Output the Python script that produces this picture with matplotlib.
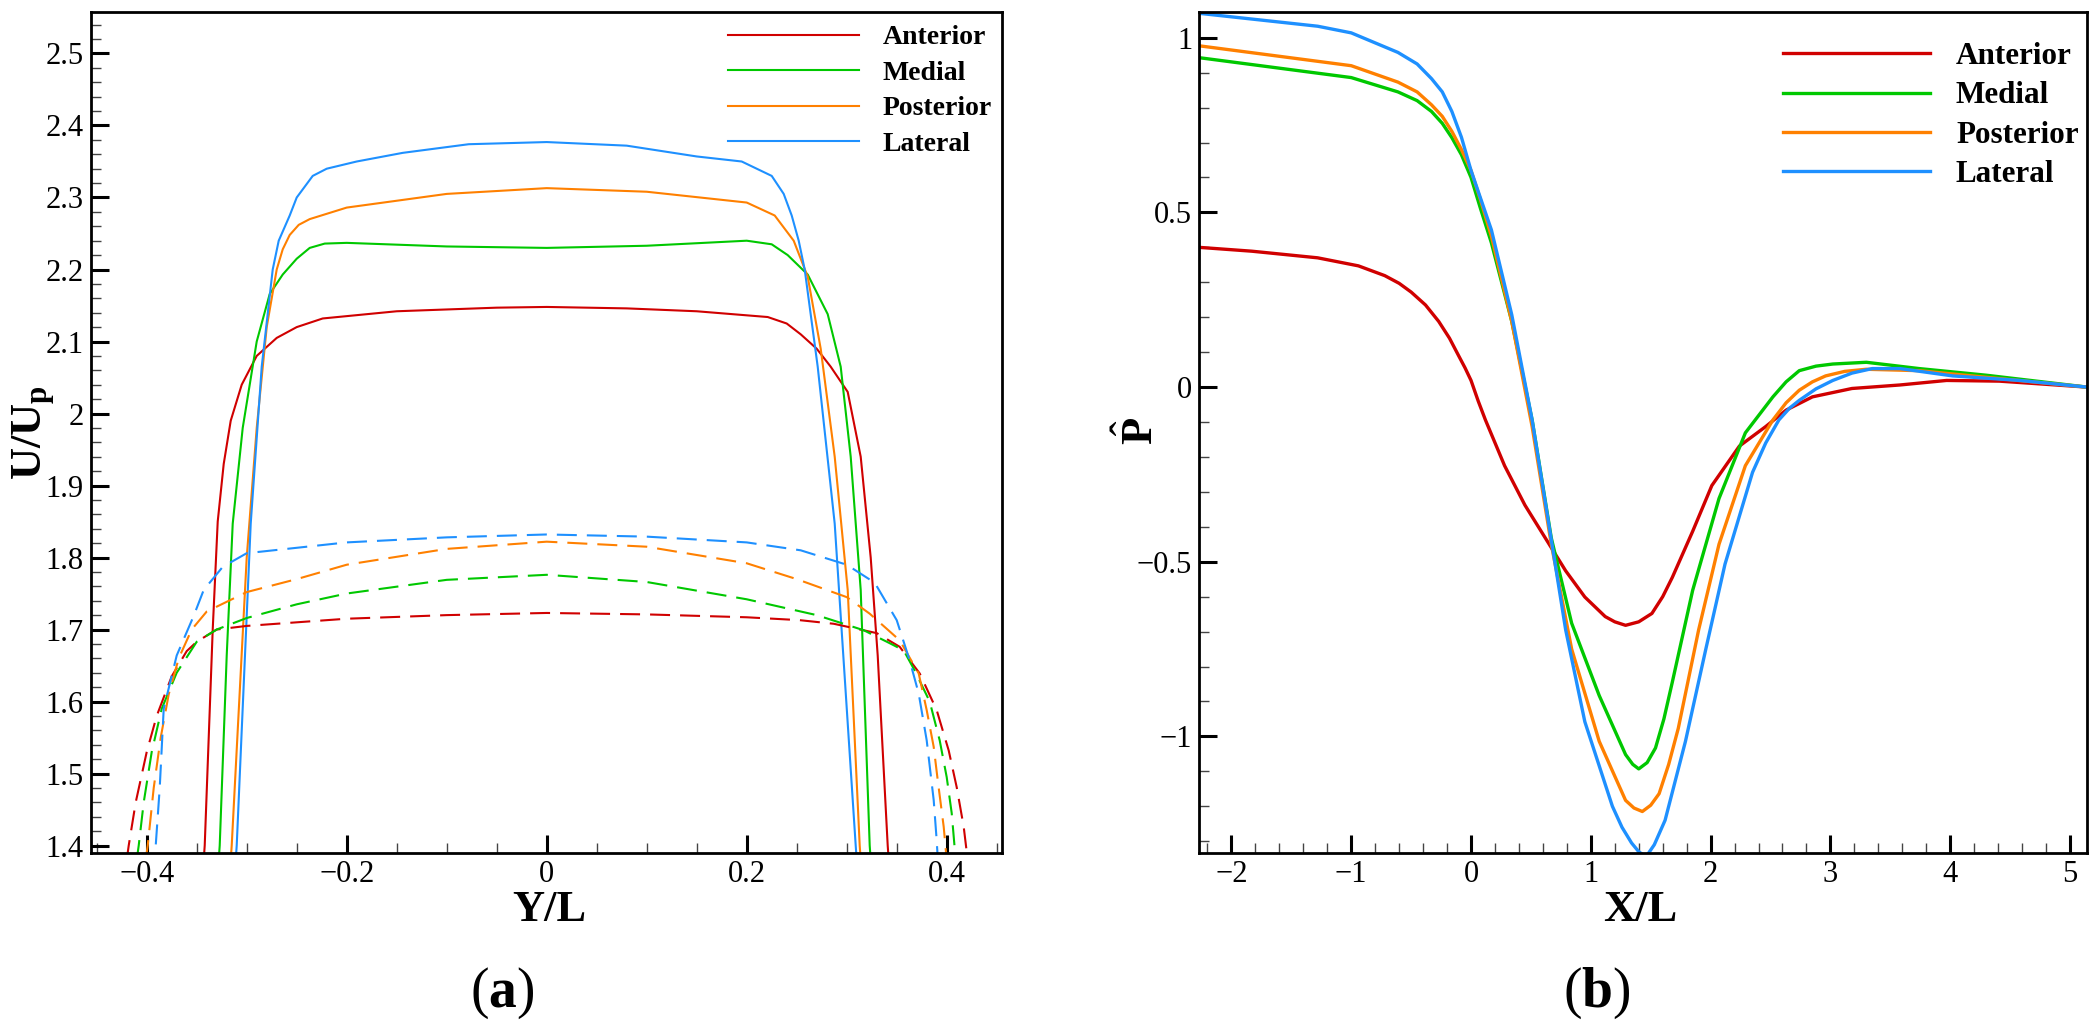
import matplotlib
matplotlib.use("Agg")
import matplotlib.pyplot as plt
from matplotlib.ticker import MultipleLocator, FuncFormatter

plt.rcParams['font.family'] = ['Liberation Serif', 'DejaVu Serif']
plt.rcParams['mathtext.fontset'] = 'custom'
plt.rcParams['mathtext.rm'] = 'Liberation Serif'
plt.rcParams['mathtext.bf'] = 'Liberation Serif:bold'
plt.rcParams['mathtext.it'] = 'Liberation Serif:italic'

names = ["Anterior", "Medial", "Posterior", "Lateral"]
colors = ["#d00000", "#00c800", "#ff8000", "#1e90ff"]

# (a) velocity profiles, solid lines
a_solid_y = [
    [-0.343, -0.342, -0.338, -0.334, -0.329, -0.323, -0.316, -0.305, -0.290, -0.270, -0.250, -0.224,
     -0.15, -0.05, 0.0, 0.08, 0.15, 0.221, 0.240, 0.254, 0.270, 0.284, 0.301, 0.314, 0.324, 0.331,
     0.341, 0.342],
    [-0.328, -0.327, -0.320, -0.314, -0.304, -0.290, -0.277, -0.264, -0.250, -0.237, -0.222, -0.2,
     -0.1, 0.0, 0.1, 0.2, 0.225, 0.241, 0.261, 0.281, 0.294, 0.304, 0.314, 0.323, 0.324],
    [-0.316, -0.315, -0.300, -0.290, -0.280, -0.270, -0.264, -0.257, -0.248, -0.237, -0.2, -0.1,
     0.0, 0.1, 0.2, 0.228, 0.247, 0.261, 0.274, 0.288, 0.301, 0.313, 0.314],
    [-0.311, -0.310, -0.296, -0.285, -0.274, -0.268, -0.257, -0.250, -0.234, -0.22, -0.19, -0.144,
     -0.078, 0.0, 0.08, 0.15, 0.195, 0.225, 0.237, 0.245, 0.252, 0.258, 0.271, 0.288, 0.301,
     0.309, 0.310],
]
a_solid_u = [
    [1.38, 1.40, 1.55, 1.70, 1.85, 1.93, 1.99, 2.04, 2.08, 2.105, 2.12, 2.132,
     2.142, 2.147, 2.148, 2.146, 2.142, 2.134, 2.125, 2.11, 2.09, 2.065, 2.03, 1.94, 1.80, 1.664,
     1.40, 1.38],
    [1.38, 1.40, 1.664, 1.847, 1.98, 2.10, 2.166, 2.193, 2.215, 2.23, 2.236, 2.237,
     2.232, 2.23, 2.233, 2.24, 2.235, 2.22, 2.193, 2.138, 2.065, 1.94, 1.755, 1.40, 1.38],
    [1.38, 1.40, 1.80, 1.98, 2.12, 2.20, 2.228, 2.248, 2.262, 2.27, 2.286, 2.305,
     2.313, 2.308, 2.293, 2.275, 2.24, 2.19, 2.09, 1.94, 1.755, 1.40, 1.38],
    [1.38, 1.40, 1.847, 2.065, 2.20, 2.24, 2.275, 2.30, 2.33, 2.34, 2.35, 2.362,
     2.374, 2.377, 2.372, 2.357, 2.35, 2.33, 2.305, 2.275, 2.24, 2.20, 2.065, 1.847, 1.57,
     1.40, 1.38],
]

# (a) dashed lines
a_dash_y = [
    [-0.420, -0.418, -0.411, -0.400, -0.390, -0.375, -0.360, -0.350, -0.330, -0.3, -0.2, -0.1, 0.0,
     0.1, 0.2, 0.253, 0.287, 0.330, 0.353, 0.373, 0.390, 0.402, 0.410, 0.417, 0.421],
    [-0.410, -0.408, -0.403, -0.395, -0.385, -0.370, -0.350, -0.330, -0.3, -0.25, -0.2, -0.1, 0.0,
     0.1, 0.2, 0.270, 0.317, 0.343, 0.357, 0.368, 0.383, 0.393, 0.400, 0.405, 0.409],
    [-0.401, -0.399, -0.393, -0.386, -0.378, -0.368, -0.355, -0.340, -0.3, -0.25, -0.2, -0.1, 0.0,
     0.1, 0.2, 0.25, 0.3, 0.323, 0.353, 0.372, 0.380, 0.387, 0.391, 0.397, 0.400],
    [-0.393, -0.391, -0.387, -0.383, -0.370, -0.353, -0.343, -0.324, -0.3, -0.2, -0.1, 0.0,
     0.1, 0.2, 0.254, 0.300, 0.328, 0.350, 0.363, 0.372, 0.380, 0.387, 0.390, 0.392],
]
a_dash_u = [
    [1.38, 1.40, 1.46, 1.53, 1.58, 1.635, 1.67, 1.683, 1.70, 1.705, 1.715, 1.72, 1.723,
     1.721, 1.717, 1.713, 1.708, 1.695, 1.676, 1.639, 1.588, 1.532, 1.481, 1.426, 1.38],
    [1.38, 1.40, 1.46, 1.53, 1.59, 1.64, 1.683, 1.70, 1.716, 1.735, 1.75, 1.769, 1.776,
     1.766, 1.742, 1.72, 1.699, 1.681, 1.671, 1.643, 1.60, 1.546, 1.495, 1.445, 1.38],
    [1.38, 1.40, 1.48, 1.55, 1.61, 1.66, 1.70, 1.725, 1.752, 1.77, 1.79, 1.812, 1.822,
     1.815, 1.792, 1.77, 1.745, 1.722, 1.685, 1.639, 1.588, 1.537, 1.491, 1.426, 1.38],
    [1.36, 1.40, 1.48, 1.59, 1.664, 1.719, 1.755, 1.787, 1.806, 1.821, 1.828, 1.832,
     1.829, 1.821, 1.81, 1.79, 1.765, 1.713, 1.657, 1.611, 1.546, 1.463, 1.407, 1.36],
]

# (b) pressure coefficient along X/L
b_x = [
    [-2.27, -1.83, -1.28, -0.94, -0.72, -0.6, -0.5, -0.38, -0.27, -0.18, -0.11, -0.05, 0.0, 0.06,
     0.12, 0.28, 0.45, 0.62, 0.79, 0.95, 1.12, 1.2, 1.29, 1.40, 1.51, 1.6, 1.68, 1.85, 2.01, 2.24,
     2.46, 2.63, 2.85, 3.18, 3.58, 3.97, 4.41, 5.14],
    [-2.27, -1.0, -0.61, -0.45, -0.33, -0.24, -0.16, -0.08, 0.0, 0.08, 0.17, 0.34, 0.51, 0.67,
     0.84, 1.07, 1.29, 1.35, 1.40, 1.47, 1.54, 1.61, 1.68, 1.85, 2.07, 2.29, 2.52, 2.63, 2.74,
     2.88, 3.02, 3.30, 3.74, 4.30, 5.14],
    [-2.27, -1.0, -0.61, -0.45, -0.33, -0.24, -0.16, -0.08, 0.0, 0.08, 0.17, 0.34, 0.51, 0.67,
     0.84, 1.07, 1.29, 1.36, 1.43, 1.50, 1.57, 1.65, 1.73, 1.90, 2.07, 2.29, 2.52, 2.63, 2.74,
     2.85, 2.96, 3.12, 3.30, 3.74, 4.30, 5.14],
    [-2.27, -1.28, -1.0, -0.61, -0.45, -0.33, -0.24, -0.16, -0.08, 0.0, 0.08, 0.17, 0.34, 0.51,
     0.65, 0.79, 0.95, 1.18, 1.26, 1.34, 1.40, 1.46, 1.53, 1.62, 1.79, 1.96, 2.12, 2.35, 2.46,
     2.57, 2.66, 2.74, 2.88, 3.02, 3.18, 3.35, 3.58, 4.02, 4.58, 5.14],
]
b_p = [
    [0.40, 0.389, 0.37, 0.347, 0.319, 0.297, 0.272, 0.235, 0.188, 0.14, 0.094, 0.055, 0.019, -0.04,
     -0.094, -0.225, -0.338, -0.432, -0.526, -0.601, -0.657, -0.672, -0.682, -0.672, -0.648, -0.60,
     -0.545, -0.413, -0.282, -0.169, -0.113, -0.066, -0.028, -0.004, 0.006, 0.019, 0.017, 0.0],
    [0.943, 0.886, 0.845, 0.82, 0.789, 0.755, 0.714, 0.665, 0.60, 0.51, 0.413, 0.188, -0.094,
     -0.432, -0.676, -0.883, -1.052, -1.08, -1.093, -1.075, -1.033, -0.95, -0.845, -0.582, -0.319,
     -0.131, -0.028, 0.015, 0.047, 0.06, 0.066, 0.071, 0.053, 0.034, 0.0],
    [0.977, 0.92, 0.873, 0.845, 0.808, 0.775, 0.732, 0.68, 0.62, 0.535, 0.432, 0.188, -0.113,
     -0.45, -0.75, -1.014, -1.183, -1.205, -1.215, -1.197, -1.164, -1.08, -0.977, -0.695, -0.45,
     -0.225, -0.094, -0.045, -0.009, 0.015, 0.032, 0.045, 0.051, 0.047, 0.028, 0.0],
    [1.07, 1.033, 1.014, 0.958, 0.925, 0.883, 0.845, 0.789, 0.715, 0.62, 0.54, 0.45, 0.207,
     -0.094, -0.394, -0.695, -0.958, -1.20, -1.26, -1.305, -1.33, -1.345, -1.31, -1.24, -1.014,
     -0.75, -0.507, -0.244, -0.16, -0.094, -0.06, -0.038, -0.005, 0.019, 0.04, 0.053, 0.053,
     0.032, 0.019, 0.0],
]


def fmt(v, pos):
    s = f"{v:.2f}".rstrip("0").rstrip(".")
    if s in ("-0", "-0."):
        s = "0"
    return s.replace("-", "\u2212")


def style_axes(ax):
    for sp in ax.spines.values():
        sp.set_linewidth(2.0)
    ax.tick_params(which="both", direction="in", top=False, right=False, labelsize=22)
    ax.tick_params(which="major", length=13, width=2.2, pad=5)
    ax.tick_params(which="minor", length=7, width=1.0, color="#444444")
    ax.xaxis.set_major_formatter(FuncFormatter(fmt))
    ax.yaxis.set_major_formatter(FuncFormatter(fmt))


fig = plt.figure(figsize=(21, 10.29), dpi=100)
ax1 = fig.add_axes([0.0432, 0.1713, 0.4338, 0.8173])
ax2 = fig.add_axes([0.5710, 0.1713, 0.4227, 0.8173])

# panel (a)
for i in range(4):
    ax1.plot(a_solid_y[i], a_solid_u[i], color=colors[i], lw=1.5, label=names[i])
for i in range(4):
    ax1.plot(a_dash_y[i], a_dash_u[i], color=colors[i], lw=1.5, dashes=(9.6, 4.8))
ax1.set_xlim(-0.456, 0.455)
ax1.set_ylim(1.39, 2.558)
ax1.xaxis.set_major_locator(MultipleLocator(0.2))
ax1.xaxis.set_minor_locator(MultipleLocator(0.05))
ax1.yaxis.set_major_locator(MultipleLocator(0.1))
ax1.yaxis.set_minor_locator(MultipleLocator(0.02))
style_axes(ax1)
ax1.legend(loc="upper left", bbox_to_anchor=(0.3465, 0.9757), bbox_transform=fig.transFigure,
           frameon=False, borderpad=0, borderaxespad=0, handlelength=4.74, handletextpad=0.83,
           labelspacing=0.36, prop={"family": "Liberation Serif", "weight": "bold", "size": 20})

# panel (b)
for i in range(4):
    ax2.plot(b_x[i], b_p[i], color=colors[i], lw=2.4, label=names[i])
ax2.set_xlim(-2.27, 5.14)
ax2.set_ylim(-1.333, 1.0745)
ax2.xaxis.set_major_locator(MultipleLocator(1))
ax2.xaxis.set_minor_locator(MultipleLocator(0.2))
ax2.yaxis.set_major_locator(MultipleLocator(0.5))
ax2.yaxis.set_minor_locator(MultipleLocator(0.1))
style_axes(ax2)
ax2.legend(loc="upper left", bbox_to_anchor=(0.8489, 0.959), bbox_transform=fig.transFigure,
           frameon=False, borderpad=0, borderaxespad=0, handlelength=4.73, handletextpad=0.84,
           labelspacing=0.33, prop={"family": "Liberation Serif", "weight": "bold", "size": 22.4})

# axis titles and panel letters
fig.text(0.016, 0.58, r"$\mathbf{U/U_p}$", rotation=90, ha="center", va="center", fontsize=32)
fig.text(0.5425, 0.581, r"$\hat{\mathbf{P}}$", rotation=90, ha="center", va="center", fontsize=32)
fig.text(0.2614, 0.1157, "Y/L", ha="center", va="center", fontsize=32, fontweight="bold")
fig.text(0.781, 0.1157, "X/L", ha="center", va="center", fontsize=32, fontweight="bold")
fig.text(0.239, 0.035, r"$(\mathbf{a})$", ha="center", va="center", fontsize=40)
fig.text(0.7605, 0.035, r"$(\mathbf{b})$", ha="center", va="center", fontsize=40)

fig.savefig("out.png", dpi=100)
